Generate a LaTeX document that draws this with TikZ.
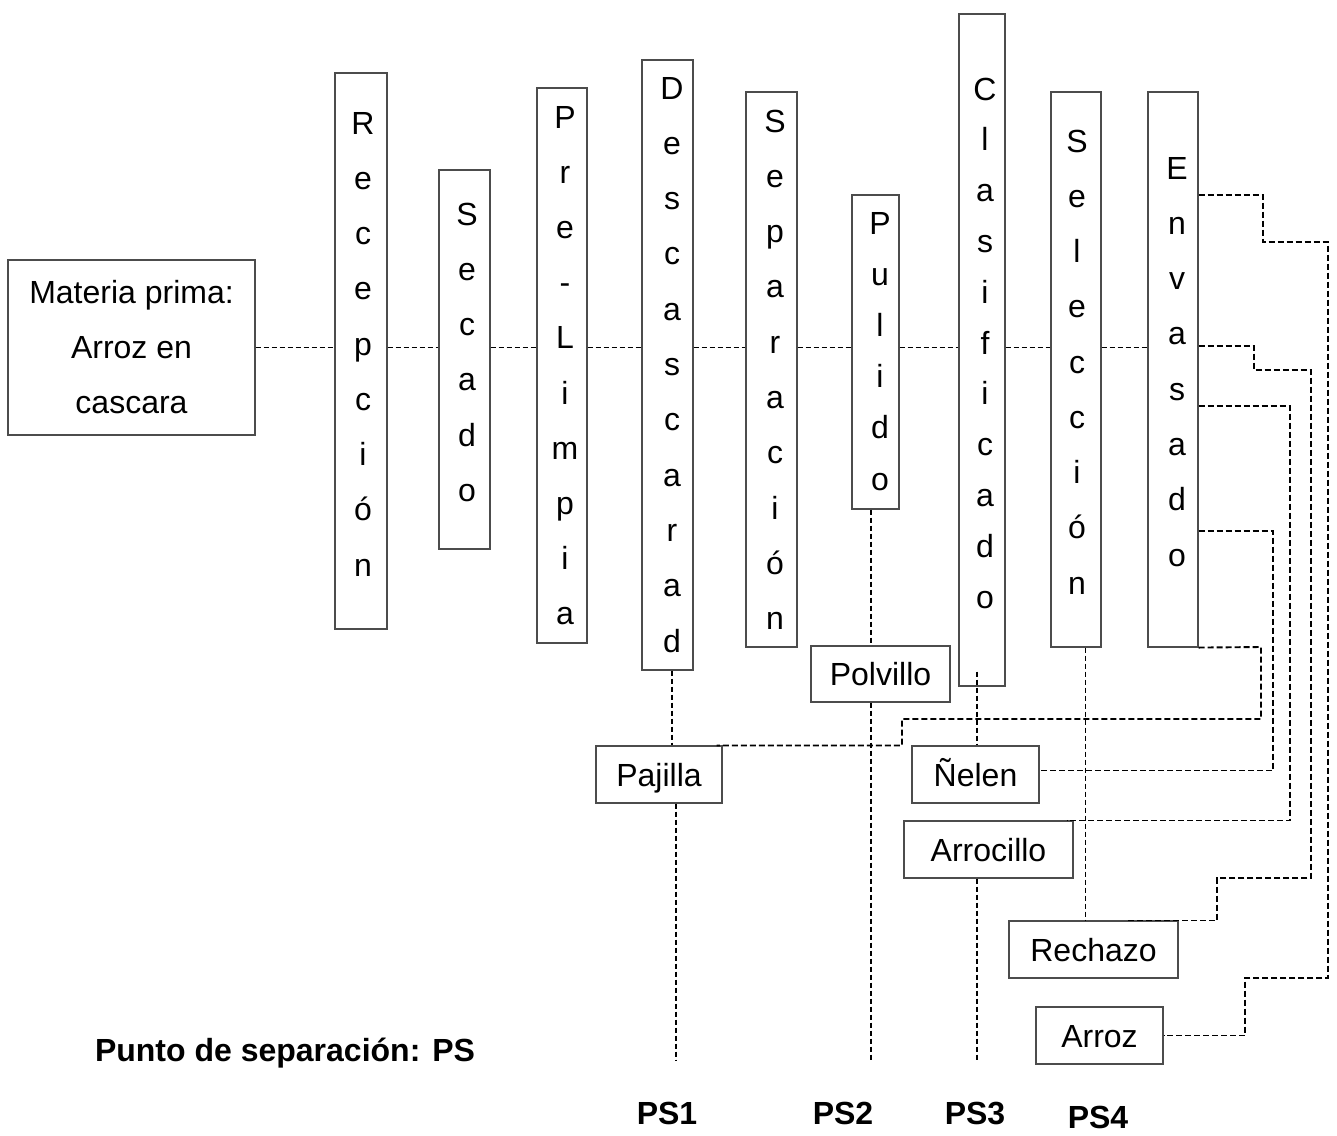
\documentclass[tikz,border=0pt]{standalone}
\usepackage{fontspec}
\setmainfont{Liberation Sans}
\newcommand\VBox[9]{%
  \node[pbox, minimum width=#4-#2, minimum height=#5-#3] (#1) at ({(#2+#4)/2},{(#3+#5)/2}) {};
  \foreach \ch [count=\i from 0] in {#9} {\node[lt] (#1-\i) at (#6,{#7+\i*#8}) {\ch};}%
}
\begin{document}
\begin{tikzpicture}[x=1pt,y=-1pt,
  pbox/.style={draw=black!70, line width=1.1pt, inner sep=0pt},
  lt/.style={font=\fontsize{32}{38}\selectfont, inner sep=0pt, anchor=base},
  obox/.style={pbox, font=\fontsize{32}{38}\selectfont, text height=23pt, text depth=0pt},
  dl/.style={draw=black, line width=1.3pt, dash pattern=on 5pt off 3pt},
  rl/.style={dl, line width=1.9pt, dash pattern=on 6pt off 3pt},
  lbl/.style={font=\fontsize{32}{38}\selectfont\bfseries, inner sep=0pt, anchor=base}]
\useasboundingbox (0,0) rectangle (1337,1135);
\fill[white] (0,0) rectangle (1337,1135);

% source box
\node[pbox, minimum width=247, minimum height=175, align=center,
      font=\fontsize{32}{55}\selectfont] (materia) at (131.5,347.5)
      {Materia prima:\\Arroz en\\cascara};

% vertical process boxes
\VBox{recep}{335}{73}{387}{629}{363}{134}{55.25}{R,e,c,e,p,c,i,ó,n}
\VBox{secado}{439}{170}{490}{549}{467}{225}{55.3}{S,e,c,a,d,o}
\VBox{prel}{537}{88}{587}{643}{565}{128}{55.2}{P,r,e,-,L,i,m,p,i,a}
\VBox{desc}{642}{60}{693}{670}{672}{99}{55.3}{D,e,s,c,a,s,c,a,r,a,d}
\VBox{sep}{746}{92}{797}{647}{775}{132}{55.3}{S,e,p,a,r,a,c,i,ó,n}
\VBox{pul}{852}{195}{899}{509}{880}{234}{51.2}{P,u,l,i,d,o}
\VBox{clas}{959}{14}{1005}{686}{985}{100}{50.8}{C,l,a,s,i,f,i,c,a,d,o}
\VBox{sel}{1051}{92}{1101}{647}{1077}{152}{55.25}{S,e,l,e,c,c,i,ó,n}
\VBox{env}{1148}{92}{1198}{647}{1177}{179}{55.3}{E,n,v,a,s,a,d,o}

% output boxes
\node[obox, minimum width=126, minimum height=57] (pajilla) at (659,774.5) {Pajilla};
\node[obox, minimum width=139, minimum height=56] (polvillo) at (880.5,674) {Polvillo};
\node[obox, minimum width=127, minimum height=57] (nelen) at (975.5,774.5) {Ñelen};
\node[obox, minimum width=169, minimum height=57] (arrocillo) at (988.5,849.5) {Arrocillo};
\node[obox, minimum width=169, minimum height=57] (rechazo) at (1093.5,949.5) {Rechazo};
\node[obox, minimum width=127, minimum height=57] (arroz) at (1099.5,1035.5) {Arroz};

% main line
\draw[dl] (materia.east) -- (materia.east -| recep.west);
\foreach \a/\b in {recep/secado, secado/prel, prel/desc, desc/sep, sep/pul, pul/clas, clas/sel, sel/env}
  \draw[dl] (\a.east |- materia.east) -- (\b.west |- materia.east);

% separation points
\coordinate (ps1) at (676,1060);
\coordinate (ps2) at (871,1060);
\coordinate (ps3) at (977,1060);
\coordinate (d1) at ([xshift=4.5pt]desc.south);
\coordinate (p1) at ([xshift=-4.5pt]pul.south);
\coordinate (c1) at ([xshift=-5pt,yshift=15pt]clas.south);
\coordinate (s1) at ([xshift=9.5pt]sel.south);

\draw[dl] (d1) -- (d1 |- pajilla.north);
\draw[dl] (ps1 |- pajilla.south) -- (ps1);
\draw[dl] (p1) -- (p1 |- polvillo.north);
\draw[dl] (ps2 |- polvillo.south) -- (ps2);
\draw[dl] (c1) -- (c1 |- nelen.north);
\draw[dl] (ps3 |- arrocillo.south) -- (ps3);
\draw[dl] (s1) -- (s1 |- rechazo.north);

% Envasado connectors
\draw[rl] (env.east |- 0,195) -- (1263,195) -- (1263,242) -- (1328,242) -- (1328,978) -- (1245,978) |- (arroz.east);
\draw[rl] (env.east |- 0,346) -- (1254,346) -- (1254,370) -- (1311,370) -- (1311,878) -- (1217,878) |- ([xshift=31.5pt]rechazo.north);
\draw[rl] (env.east |- 0,406) -- (1290,406) |- ([xshift=-7pt]arrocillo.north east);
\draw[rl] (env.east |- 0,531) -- (1273,531) |- ([yshift=4pt]nelen.east);
\draw[rl] (env.south east) -- (1261,647) -- (1261,719) -- (902,719) |- ([xshift=-6pt]pajilla.north east);

% labels
\node[lbl] (punto) at (285,1061.5) {Punto de separación: PS};
\node[lbl] (lps1) at (667,1124.5) {PS1};
\node[lbl] (lps2) at (843,1124.5) {PS2};
\node[lbl] (lps3) at (975,1124.5) {PS3};
\node[lbl] (lps4) at (1098,1128.5) {PS4};
\end{tikzpicture}
\end{document}
